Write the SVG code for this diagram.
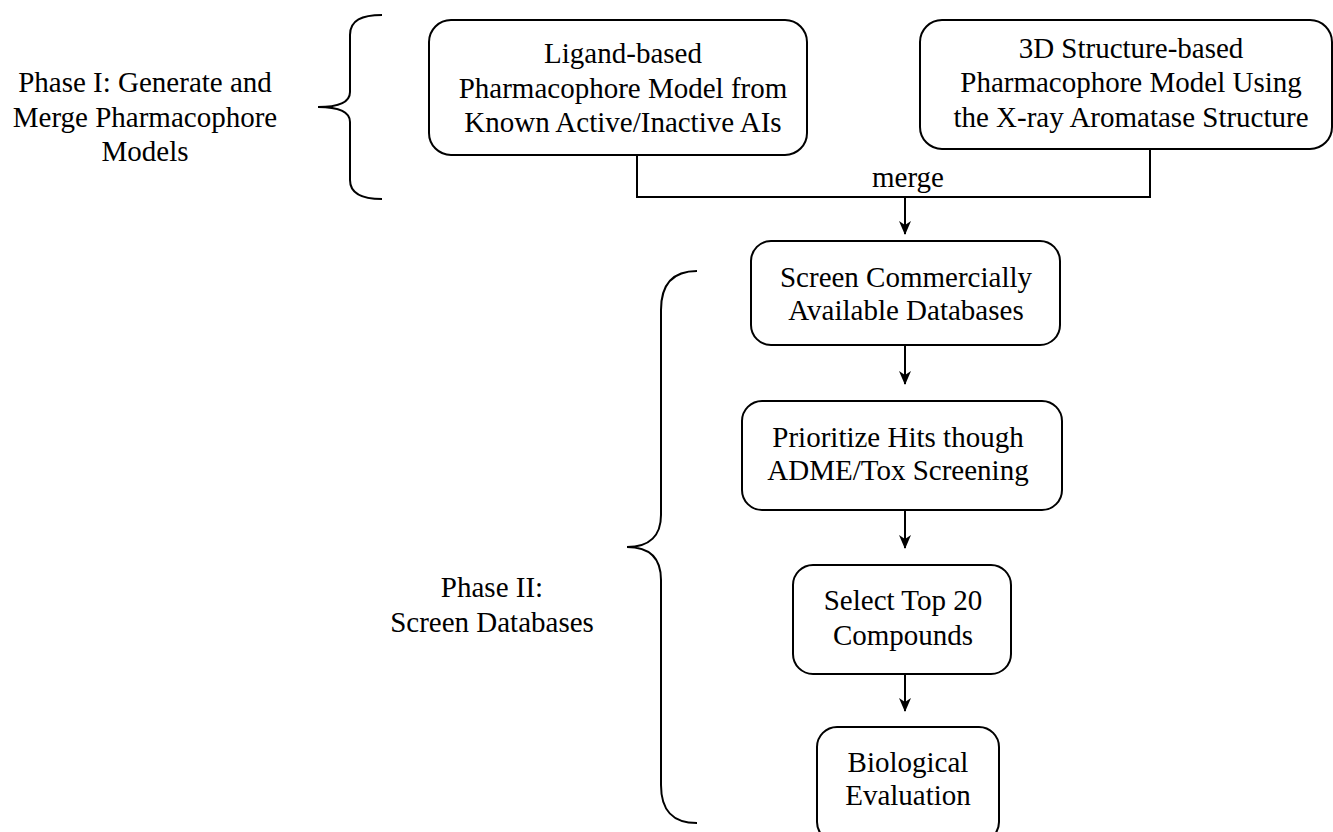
<svg xmlns="http://www.w3.org/2000/svg" width="1333" height="832" viewBox="0 0 1333 832">
<style>
.box{fill:#fff;stroke:#000;stroke-width:2}
.t{font-family:"Liberation Serif","Times New Roman",serif;font-size:29px;fill:#000;text-anchor:middle}
.ln{fill:none;stroke:#000;stroke-width:2}
</style>
<defs>
<marker id="ah" viewBox="0 0 14 12" refX="13" refY="6" markerWidth="14" markerHeight="12" markerUnits="userSpaceOnUse" orient="auto">
<path d="M0,0 L14,6 L0,12 L4,6 Z" fill="#000"/>
</marker>
</defs>
<rect width="1333" height="832" fill="#fff"/>
<g id="brace1"><path class="ln" d="M382,15 C362,15 350,20 350,35 L350,92 C350,102 340,107 318,107 C340,107 350,112 350,122 L350,180 C350,194 362,199 382,199"/></g>
<g id="brace2"><path class="ln" d="M697,271 C672,271 661,285 661,310 L661,515 C661,535 650,547 627,547 C650,547 661,559 661,580 L661,785 C661,810 672,823 697,823"/></g>
<g id="phase1"><text class="t" x="145" y="92">Phase I: Generate and</text><text class="t" x="145" y="127">Merge Pharmacophore</text><text class="t" x="145" y="161">Models</text></g>
<g id="phase2"><text class="t" x="492" y="597">Phase II:</text><text class="t" x="492" y="632">Screen Databases</text></g>
<g id="connectors">
<path class="ln" d="M637,155 L637,197 L1150,197 L1150,149"/>
<text class="t" x="908" y="187">merge</text>
<line class="ln" x1="905" y1="197" x2="905" y2="234" marker-end="url(#ah)"/>
<line class="ln" x1="905" y1="345" x2="905" y2="384" marker-end="url(#ah)"/>
<line class="ln" x1="905" y1="510" x2="905" y2="548" marker-end="url(#ah)"/>
<line class="ln" x1="905" y1="674" x2="905" y2="711" marker-end="url(#ah)"/>
</g>
<g id="n1"><rect class="box" x="429" y="20" width="378" height="135" rx="22"/><text class="t" x="623" y="63">Ligand-based</text><text class="t" x="623" y="98">Pharmacophore Model from</text><text class="t" x="623" y="132">Known Active/Inactive AIs</text></g>
<g id="n2"><rect class="box" x="920" y="20" width="412" height="129" rx="22"/><text class="t" x="1131" y="58">3D Structure-based</text><text class="t" x="1131" y="92">Pharmacophore Model Using</text><text class="t" x="1131" y="127">the X-ray Aromatase Structure</text></g>
<g id="n3"><rect class="box" x="751" y="241" width="309" height="104" rx="20"/><text class="t" x="906" y="287">Screen Commercially</text><text class="t" x="906" y="320">Available Databases</text></g>
<g id="n4"><rect class="box" x="742" y="401" width="320" height="109" rx="20"/><text class="t" x="898" y="447">Prioritize Hits though</text><text class="t" x="898" y="480">ADME/Tox Screening</text></g>
<g id="n5"><rect class="box" x="793" y="565" width="218" height="109" rx="20"/><text class="t" x="903" y="610">Select Top 20</text><text class="t" x="903" y="645">Compounds</text></g>
<g id="n6"><rect class="box" x="817" y="727" width="182" height="115" rx="20"/><text class="t" x="908" y="772">Biological</text><text class="t" x="908" y="805">Evaluation</text></g>
</svg>
